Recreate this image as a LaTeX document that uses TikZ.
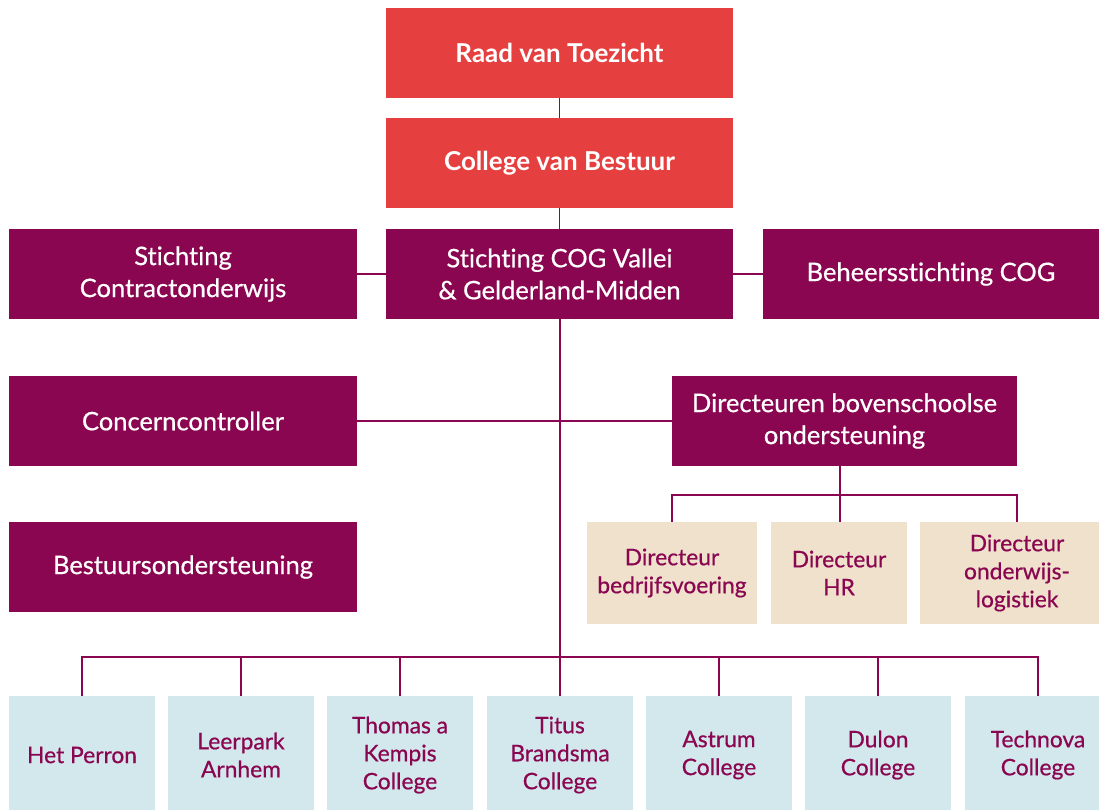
\documentclass[tikz,border=0pt]{standalone}
\usepackage{fontspec}
\setmainfont{Lato}[Ligatures=NoCommon]
\newfontfamily\medfont{Lato}[FakeBold=0.6,Ligatures=NoCommon]
\definecolor{cogred}{HTML}{E5403F}
\definecolor{cogpurple}{HTML}{8A0651}
\definecolor{cogtan}{HTML}{EFE1CB}
\definecolor{cogblue}{HTML}{D3E8EC}
\begin{document}
\begin{tikzpicture}[x=1pt,y=-1pt,
  box/.style={rectangle,inner sep=0pt,align=center,minimum height=90pt},
  redbox/.style={box,fill=cogred,text=white,font=\fontsize{26}{32}\selectfont\bfseries,minimum width=347pt},
  purplebox/.style={box,fill=cogpurple,text=white,font=\fontsize{25.5}{32}\selectfont\medfont},
  tanbox/.style={box,fill=cogtan,text=cogpurple,font=\fontsize{22.8}{28}\selectfont\medfont,minimum height=102pt},
  bluebox/.style={box,fill=cogblue,text=cogpurple,font=\fontsize{22.8}{28}\selectfont\medfont,minimum height=118pt,minimum width=146pt},
  link/.style={draw=cogpurple,line width=1.5pt}]
\useasboundingbox (0,0) rectangle (1099,809);
\clip (0,0) rectangle (1099,809);
\node[redbox] (raad) at (559.5,53) {Raad van Toezicht};
\node[redbox] (cvb) at (559.5,163) {College van Bestuur};
\node[purplebox,minimum width=347pt] (cog) at (559.5,274) {Stichting COG Vallei\\\& Gelderland-Midden};
\node[purplebox,minimum width=348pt] (sco) at (183,274) {Stichting\\Contractonderwijs};
\node[purplebox,minimum width=336pt] (beh) at (931,274) {Beheersstichting COG};
\node[purplebox,minimum width=348pt] (cc) at (183,421) {Concerncontroller};
\node[purplebox,minimum width=345pt] (dbo) at (844.5,421) {Directeuren bovenschoolse\\ondersteuning};
\node[purplebox,minimum width=348pt] (bo) at (183,567) {Bestuursondersteuning};
\node[tanbox,minimum width=170pt] (d1) at (672,573) {Directeur\\bedrijfsvoering};
\node[tanbox,minimum width=136pt] (d2) at (839,573) {Directeur\\HR};
\node[tanbox,minimum width=194pt] (d3) at (1017,573) {Directeur\\onderwijs-\\logistiek};
\node[bluebox] (s1) at (82,755) {Het Perron};
\node[bluebox] (s2) at (241,755) {Leerpark\\Arnhem};
\node[bluebox] (s3) at (400,755) {Thomas a\\Kempis\\College};
\node[bluebox] (s4) at (560,755) {Titus\\Brandsma\\College};
\node[bluebox] (s5) at (719,755) {Astrum\\College};
\node[bluebox] (s6) at (878,755) {Dulon\\College};
\node[bluebox] (s7) at (1038,755) {Technova\\College};
\coordinate (bus) at (560,657);
\coordinate (dbus) at (840,495);
\path[link] (raad.south) -- (cvb.north);
\path[link] (cvb.south) -- (cog.north);
\path[link] (sco.east) -- (cog.west);
\path[link] (cog.east) -- (beh.west);
\path[link] (cog.south -| bus) -- (bus);
\path[link] (cc.east) -- (dbo.west);
\path[link] (dbo.south -| dbus) -- (dbus);
\path[link] (d1.north) |- (dbus) -| (d3.north);
\path[link] (dbus) -- (d2.north -| dbus);
\path[link] (s1.north) |- (bus) -| (s7.north);
\foreach \s in {s2,s3,s4,s5,s6} \path[link] (\s.north) -- (\s.north |- bus);
\end{tikzpicture}
\end{document}
